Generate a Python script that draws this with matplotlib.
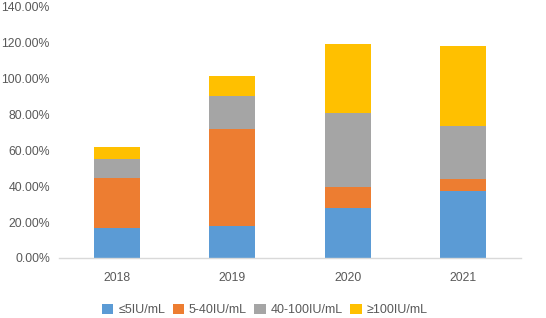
import matplotlib
matplotlib.use("Agg")
import matplotlib.pyplot as plt
import numpy as np

years = ["2018", "2019", "2020", "2021"]
series_names = ["≤5IU/mL", "5-40IU/mL", "40-100IU/mL", "≥100IU/mL"]
le5 = [16.9, 17.7, 28.1, 37.2]
r5_40 = [27.7, 54.0, 11.7, 6.9]
r40_100 = [10.6, 18.8, 41.2, 29.5]
ge100 = [6.7, 10.8, 38.1, 44.6]
colors = ["#5B9BD5", "#ED7D31", "#A5A5A5", "#FFC000"]

plt.rcParams["font.family"] = ["Liberation Sans", "DejaVu Sans"]

fig = plt.figure(figsize=(5.46, 3.18), dpi=100)
ax = fig.add_axes([0.108, 0.189, 0.846, 0.789])

x = np.arange(len(years))
bottom = np.zeros(len(years))
for name, vals, c in zip(series_names, [le5, r5_40, r40_100, ge100], colors):
    v = np.array(vals) / 100
    ax.bar(x, v, 0.4, bottom=bottom, color=c, label=name)
    bottom += v

ax.set_xlim(-0.5, 3.5)
ax.set_ylim(0, 1.4)
ticks = np.arange(0, 1.41, 0.2)
ax.set_yticks(ticks)
ax.set_yticklabels(["%.2f%%" % (t * 100) for t in ticks])
ax.set_xticks(x)
ax.set_xticklabels(years)
ax.tick_params(axis="both", length=0, labelsize=8.8, colors="#595959")
ax.tick_params(axis="x", pad=10)
ax.tick_params(axis="y", pad=6.5)
for s in ["top", "right", "left"]:
    ax.spines[s].set_visible(False)
ax.spines["bottom"].set_color("#D9D9D9")
ax.spines["bottom"].set_linewidth(1.0)

fig.legend(loc="center", bbox_to_anchor=(0.485, 0.025), ncol=4, frameon=False,
           fontsize=9, handlelength=0.9, handleheight=0.9, handletextpad=0.4,
           columnspacing=0.6, labelcolor="#595959")

fig.savefig("out.png", dpi=100)
